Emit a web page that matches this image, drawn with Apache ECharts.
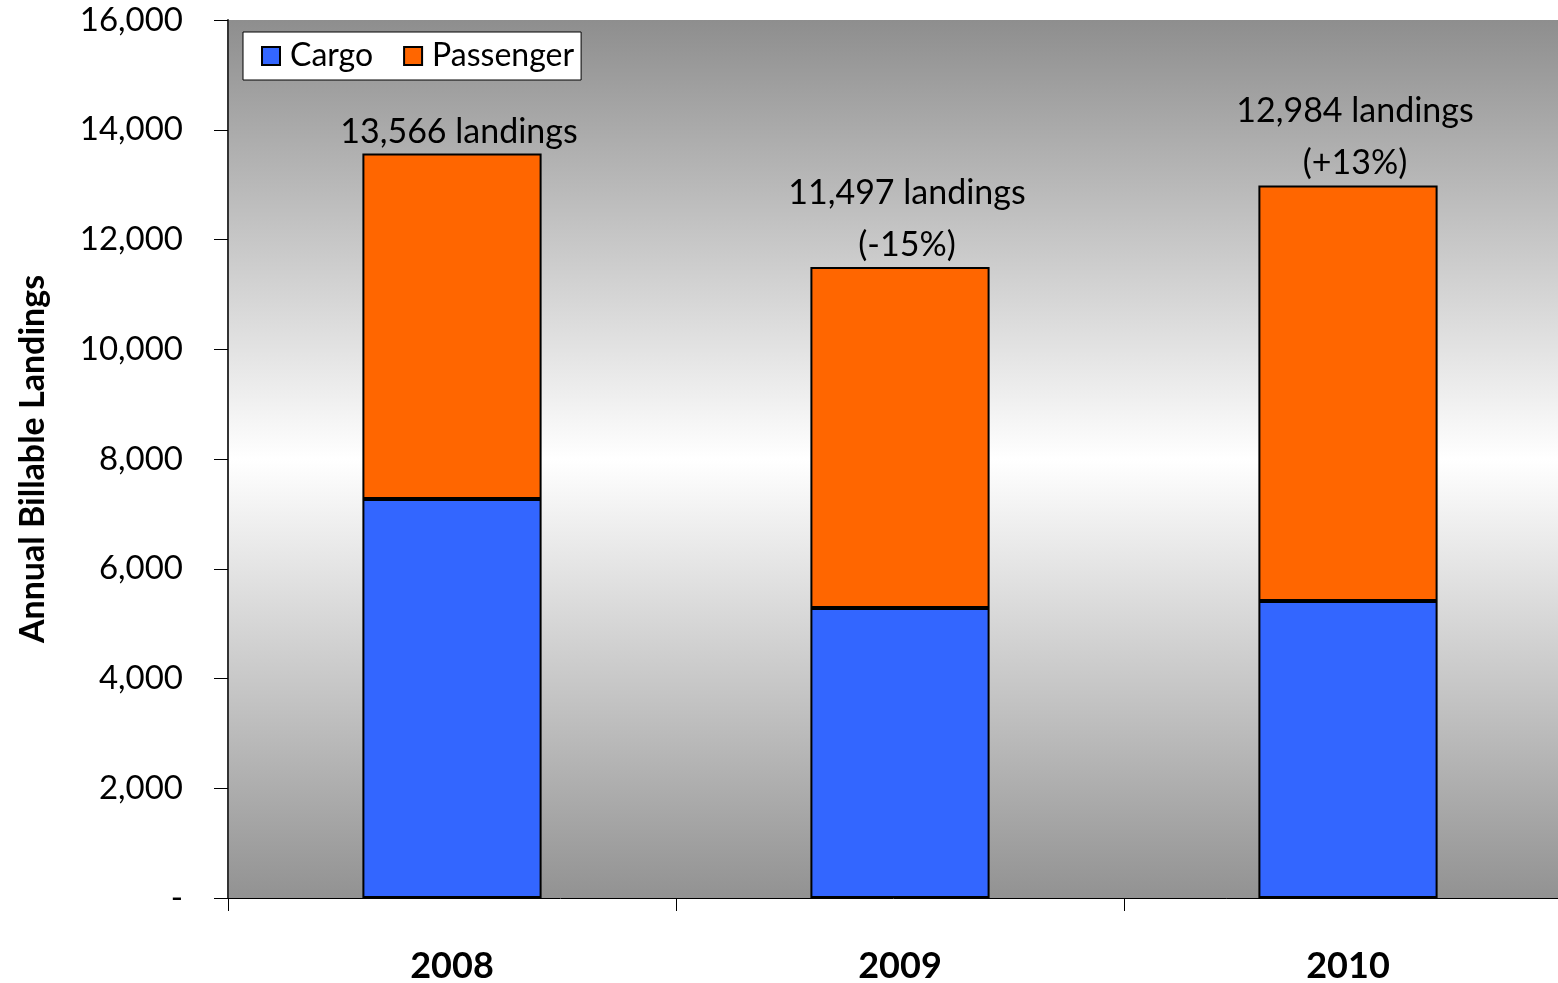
<!DOCTYPE html>
<html>
<head>
<meta charset="utf-8">
<script src="https://cdn.jsdelivr.net/npm/echarts@6/dist/echarts.min.js"></script>
<style>
html,body{margin:0;padding:0;background:#fff;overflow:hidden;}
#chart{width:1558px;height:983px;}
</style>
</head>
<body>
<div id="chart"></div>
<script>
const categories = ['2008', '2009', '2010'];
const cargo = [7270, 5285, 5412];
const passenger = [6296, 6212, 7572];
const totals = [13566, 11497, 12984];
const changes = ['', '(-15%)', '(+13%)'];
const yTicks = { min: 0, max: 16000, interval: 2000 };

const FONT = 'Lato';
const chart = echarts.init(document.getElementById('chart'));

function fmt(n) { return n.toString().replace(/\B(?=(\d{3})+(?!\d))/g, ','); }

const option = {
  animation: false,
  textStyle: { fontFamily: FONT },
  grid: {
    left: 228, width: 1344, top: 20, bottom: 85,
    outerBoundsMode: 'none',
    containLabel: false,
    show: true,
    borderWidth: 0,
    backgroundColor: {
      type: 'linear', x: 0, y: 0, x2: 0, y2: 1,
      colorStops: [
        { offset: 0, color: '#8e8e8e' },
        { offset: 0.5, color: '#ffffff' },
        { offset: 1, color: '#929292' }
      ]
    }
  },
  legend: {
    left: 243, top: 32,
    data: ['Cargo', 'Passenger'],
    backgroundColor: '#ffffff',
    borderColor: '#000000',
    borderWidth: 1,
    borderRadius: 0,
    padding: [8, 7, 8, 18],
    itemGap: 30,
    itemWidth: 18, itemHeight: 18,
    icon: 'rect',
    textStyle: { fontFamily: FONT, fontSize: 32, color: '#000', padding: [0, 0, 0, 5] }
  },
  xAxis: {
    type: 'category',
    data: categories,
    axisLine: { lineStyle: { color: '#000', width: 1 } },
    axisTick: { show: true, length: 13, lineStyle: { color: '#000' } },
    axisLabel: { margin: 50, fontFamily: FONT, fontSize: 36, fontWeight: 'bold', color: '#000' },
    splitLine: { show: false }
  },
  yAxis: {
    type: 'value',
    min: yTicks.min, max: yTicks.max, interval: yTicks.interval,
    name: 'Annual Billable Landings',
    nameLocation: 'middle',
    nameGap: 178,
    nameTextStyle: { fontFamily: FONT, fontSize: 34, fontWeight: 'bold', color: '#000' },
    axisLine: { show: true, lineStyle: { color: '#333', width: 2 } },
    axisTick: { show: true, length: 14, lineStyle: { color: '#000' } },
    axisLabel: {
      margin: 45, fontFamily: FONT, fontSize: 33, color: '#000',
      formatter: v => v === 0 ? '-' : fmt(v)
    },
    splitLine: { show: false }
  },
  series: [
    {
      name: 'Cargo', type: 'bar', stack: 'total',
      data: cargo, barWidth: '40%',
      itemStyle: { color: '#3366FF', borderColor: '#000', borderWidth: 2 }
    },
    {
      name: 'Passenger', type: 'bar', stack: 'total',
      data: passenger, barWidth: '40%',
      itemStyle: { color: '#FF6600', borderColor: '#000', borderWidth: 2 },
      label: {
        show: true, position: 'top', distance: 0, offset: [7, 4],
        fontFamily: FONT, fontSize: 34, color: '#000', lineHeight: 52,
        formatter: p => {
          const t = fmt(totals[p.dataIndex]) + ' landings';
          const c = changes[p.dataIndex];
          return c ? t + '\n' + c : t;
        }
      }
    }
  ]
};
chart.setOption(option);
</script>
</body>
</html>
